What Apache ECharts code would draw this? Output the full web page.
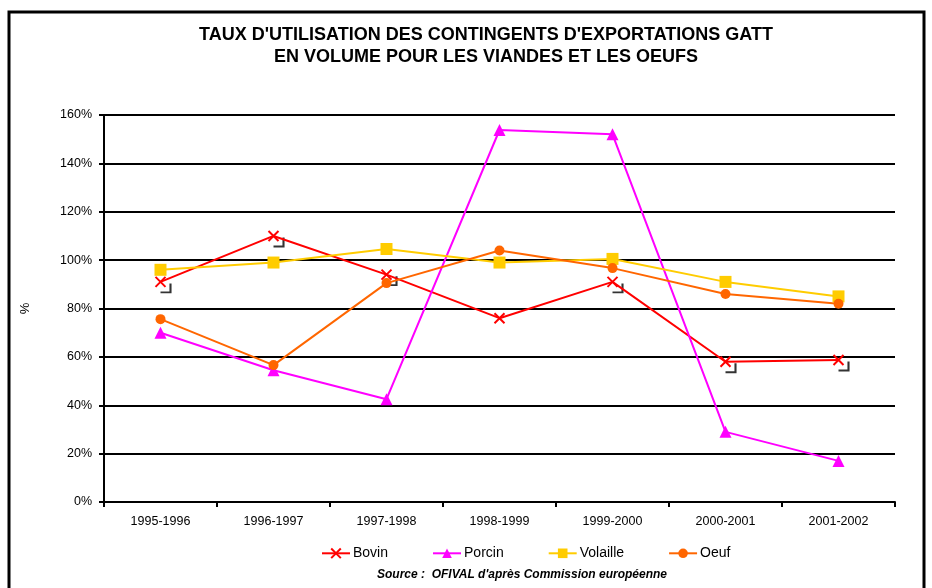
<!DOCTYPE html>
<html><head><meta charset="utf-8">
<script src="https://cdn.jsdelivr.net/npm/echarts@6/dist/echarts.min.js"></script>
<style>html,body{margin:0;padding:0;background:#fff}#c{width:932px;height:588px}</style>
</head><body><div id="c"></div>
<script>
const categories = ['1995-1996','1996-1997','1997-1998','1998-1999','1999-2000','2000-2001','2001-2002'];
const bovin = [91, 110, 94, 76, 91, 58, 58.7];
const porcin = [70, 54.5, 42.5, 153.8, 152, 29, 17];
const volaille = [96, 99, 104.6, 99, 100.5, 91, 85];
const oeuf = [75.6, 56.6, 90.5, 104, 96.7, 86, 82];
const yTicks = [0, 20, 40, 60, 80, 100, 120, 140, 160];

const chart = echarts.init(document.getElementById('c'), null, {renderer:'canvas'});
const F = 'Liberation Sans, Arial, sans-serif';
const crossPath = 'path://M0 0L10 10M10 0L0 10';
const bracketPath = 'path://M10 0L10 10L0 10';
const barPath = 'path://M0 0L0 10';
const bracketData = bovin.map((v,i)=> i===3
  ? {value:v, symbol:barPath, symbolSize:[2,12], symbolOffset:[9,2]}
  : {value:v, symbol:bracketPath, symbolSize:[10,9], symbolOffset:[5,6]});

chart.setOption({
  animation:false,
  backgroundColor:'#fff',
  textStyle:{fontFamily:F},
  legend:{
    data:['Bovin','Porcin','Volaille','Oeuf'],
    left:316, top:541, itemWidth:28, itemHeight:12, itemGap:44,
    textStyle:{fontFamily:F, fontSize:14, color:'#000', padding:[0,0,0,-2]}
  },
  graphic:[
    {type:'rect', shape:{x:9, y:12, width:915, height:600}, style:{fill:'none', stroke:'#000', lineWidth:3}, z:100},
    {type:'text', style:{text:"TAUX D'UTILISATION DES CONTINGENTS D'EXPORTATIONS GATT", x:486, y:35, textAlign:'center', textVerticalAlign:'middle', font:'bold 18px Liberation Sans, Arial', fill:'#000'}},
    {type:'text', style:{text:"EN VOLUME POUR LES VIANDES ET LES OEUFS", x:486, y:57, textAlign:'center', textVerticalAlign:'middle', font:'bold 18px Liberation Sans, Arial', fill:'#000'}},
    {type:'text', style:{text:"Source :  OFIVAL d'après Commission européenne", x:522, y:575, textAlign:'center', textVerticalAlign:'middle', font:'italic bold 12px Liberation Sans, Arial', fill:'#000'}}
  ],
  grid:{left:104, right:37, top:115, bottom:86},
  xAxis:{
    type:'category', data:categories, boundaryGap:true,
    axisLine:{lineStyle:{color:'#000', width:2}},
    axisTick:{show:true, length:5, lineStyle:{color:'#000', width:2}},
    axisLabel:{fontFamily:F, fontSize:12.5, color:'#000', margin:13}
  },
  yAxis:{
    type:'value', min:0, max:160, interval:20,
    name:'%', nameLocation:'middle', nameGap:72, nameRotate:90,
    nameTextStyle:{fontFamily:F, fontSize:13, color:'#000'},
    axisLine:{show:true, lineStyle:{color:'#000', width:2}},
    axisTick:{show:true, length:5, lineStyle:{color:'#000', width:2}},
    axisLabel:{formatter:'{value}%', fontFamily:F, fontSize:12.5, color:'#000', margin:12},
    splitLine:{lineStyle:{color:'#000', width:2}}
  },
  series:[
    {name:'Bovin', type:'line', data:bovin, symbol:crossPath, symbolSize:10,
     lineStyle:{color:'#FF0000', width:2}, itemStyle:{color:'none', borderColor:'#FF0000', borderWidth:2}, z:5},
    {name:'brackets', type:'scatter', data:bracketData, itemStyle:{color:'none', borderColor:'#000', borderWidth:2}, z:4, silent:true},
    {name:'Porcin', type:'line', data:porcin, symbol:'triangle', symbolSize:12,
     lineStyle:{color:'#FF00FF', width:2}, itemStyle:{color:'#FF00FF'}, z:5},
    {name:'Volaille', type:'line', data:volaille, symbol:'rect', symbolSize:12,
     lineStyle:{color:'#FFCC00', width:2}, itemStyle:{color:'#FFCC00'}, z:5},
    {name:'Oeuf', type:'line', data:oeuf, symbol:'circle', symbolSize:10,
     lineStyle:{color:'#FF6600', width:2}, itemStyle:{color:'#FF6600'}, z:5}
  ]
});
</script></body></html>
